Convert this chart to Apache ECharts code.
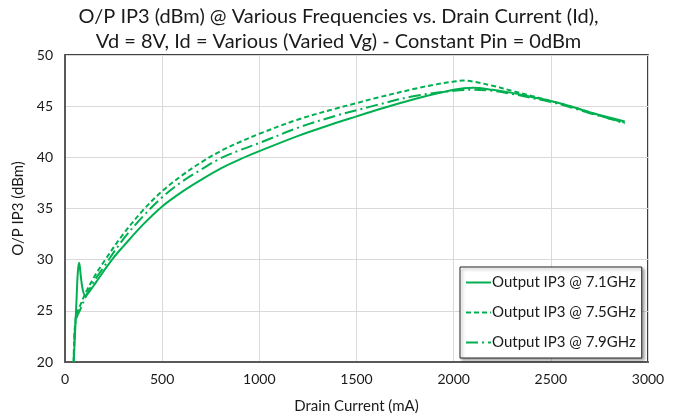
<!DOCTYPE html>
<html>
<head>
<meta charset="utf-8">
<script src="https://cdn.jsdelivr.net/npm/echarts@6/dist/echarts.min.js"></script>
<style>
  html, body { margin: 0; padding: 0; background: #fff; }
  #chart { width: 677px; height: 419px; }
</style>
</head>
<body>
<div id="chart"></div>
<script>
// drain current (mA) and O/P IP3 (dBm)
const current71 = [45, 58, 66, 73, 80, 92, 106, 130, 160, 200, 250, 300, 400, 500, 600, 700, 800, 900, 1000, 1200, 1400, 1500, 1600, 1800, 2000, 2100, 2200, 2300, 2400, 2500, 2600, 2700, 2800, 2880]
const ip3_71 = [20, 25.5, 28.8, 29.7, 28.6, 27.0, 26.5, 27.0, 27.8, 28.9, 30.2, 31.3, 33.4, 35.2, 36.6, 37.8, 38.9, 39.8, 40.6, 42.1, 43.4, 44.0, 44.6, 45.7, 46.6, 46.8, 46.6, 46.3, 45.9, 45.5, 45.0, 44.4, 43.9, 43.5]

const current75 = [45, 55, 80, 110, 150, 200, 300, 400, 500, 600, 700, 800, 900, 1000, 1200, 1400, 1500, 1600, 1800, 1900, 2000, 2050, 2100, 2200, 2300, 2400, 2500, 2600, 2700, 2800, 2880]
const ip3_75 = [20, 24.3, 25.6, 26.9, 28.3, 29.8, 32.5, 34.8, 36.7, 38.2, 39.5, 40.6, 41.5, 42.3, 43.7, 44.8, 45.3, 45.8, 46.7, 47.1, 47.4, 47.5, 47.4, 47.0, 46.5, 46.0, 45.5, 45.0, 44.4, 43.8, 43.4]

const current79 = [45, 55, 80, 110, 150, 200, 300, 400, 500, 600, 700, 800, 900, 1000, 1200, 1400, 1500, 1600, 1800, 2000, 2100, 2200, 2300, 2400, 2500, 2600, 2700, 2800, 2880]
const ip3_79 = [20, 24.0, 25.2, 26.5, 27.9, 29.3, 32.0, 34.2, 36.1, 37.6, 38.8, 39.9, 40.7, 41.4, 42.9, 44.1, 44.6, 45.1, 46.0, 46.5, 46.6, 46.5, 46.2, 45.8, 45.4, 44.9, 44.3, 43.8, 43.3]

const seriesNames = ['Output IP3 @ 7.1GHz', 'Output IP3 @ 7.5GHz', 'Output IP3 @ 7.9GHz']
const titleLines = ['O/P IP3 (dBm) @ Various Frequencies vs. Drain Current (Id),', 'Vd = 8V, Id = Various (Varied Vg) - Constant Pin = 0dBm']

const green = '#00b050'
const font = 'Lato, "Open Sans", sans-serif'

function pairs(xs, ys) {
  return xs.map((x, i) => [x, ys[i]])
}

const chart = echarts.init(document.getElementById('chart'))

function lineSeries(name, xs, ys, type) {
  return {
    name: name,
    type: 'line',
    data: pairs(xs, ys),
    showSymbol: false,
    symbol: 'none',
    smooth: 0.35,
    color: green,
    lineStyle: { color: green, width: 2, type: type },
    animation: false
  }
}

chart.setOption({
  title: {
    text: titleLines.join('\n'),
    left: 'center',
    top: -1,
    textStyle: { fontFamily: font, fontSize: 20, fontWeight: 'normal', color: '#1a1a1a', lineHeight: 25 }
  },
  grid: {
    left: 65,
    right: 29,
    top: 55,
    bottom: 56,
    show: true,
    borderColor: '#000',
    borderWidth: 1.5,
    backgroundColor: '#fff'
  },
  legend: {
    orient: 'vertical',
    left: 460,
    top: 267,
    itemWidth: 25,
    itemHeight: 14,
    itemGap: 15,
    padding: [8, 6, 8, 5],
    backgroundColor: '#fff',
    borderColor: '#262626',
    borderWidth: 1,
    shadowColor: 'rgba(0,0,0,0.35)',
    shadowBlur: 3,
    shadowOffsetX: 2,
    shadowOffsetY: 2,
    itemStyle: { opacity: 0 },
    textStyle: { fontFamily: font, fontSize: 15, color: '#1a1a1a', padding: [0, 0, 0, -4] },
    data: seriesNames
  },
  xAxis: {
    type: 'value',
    min: 0,
    max: 3000,
    interval: 500,
    name: 'Drain Current (mA)',
    nameLocation: 'middle',
    nameGap: 37,
    nameTextStyle: { fontFamily: font, fontSize: 15, color: '#1a1a1a' },
    axisLine: { lineStyle: { color: '#595959', width: 2 } },
    axisTick: { show: false },
    axisLabel: { fontFamily: font, fontSize: 14, color: '#1a1a1a', margin: 10, formatter: v => String(v) },
    splitLine: { lineStyle: { color: '#d9d9d9', width: 1 } }
  },
  yAxis: {
    type: 'value',
    min: 20,
    max: 50,
    interval: 5,
    name: 'O/P IP3 (dBm)',
    nameLocation: 'middle',
    nameGap: 35,
    nameTextStyle: { fontFamily: font, fontSize: 15, color: '#1a1a1a' },
    axisLine: { show: true, lineStyle: { color: '#595959', width: 2 } },
    axisTick: { show: false },
    axisLabel: { fontFamily: font, fontSize: 14, color: '#1a1a1a', margin: 12 },
    splitLine: { lineStyle: { color: '#d9d9d9', width: 1 } }
  },
  series: [
    lineSeries(seriesNames[0], current71, ip3_71, 'solid'),
    lineSeries(seriesNames[1], current75, ip3_75, [5, 3]),
    lineSeries(seriesNames[2], current79, ip3_79, [12, 4, 2, 4])
  ]
})
</script>
</body>
</html>
